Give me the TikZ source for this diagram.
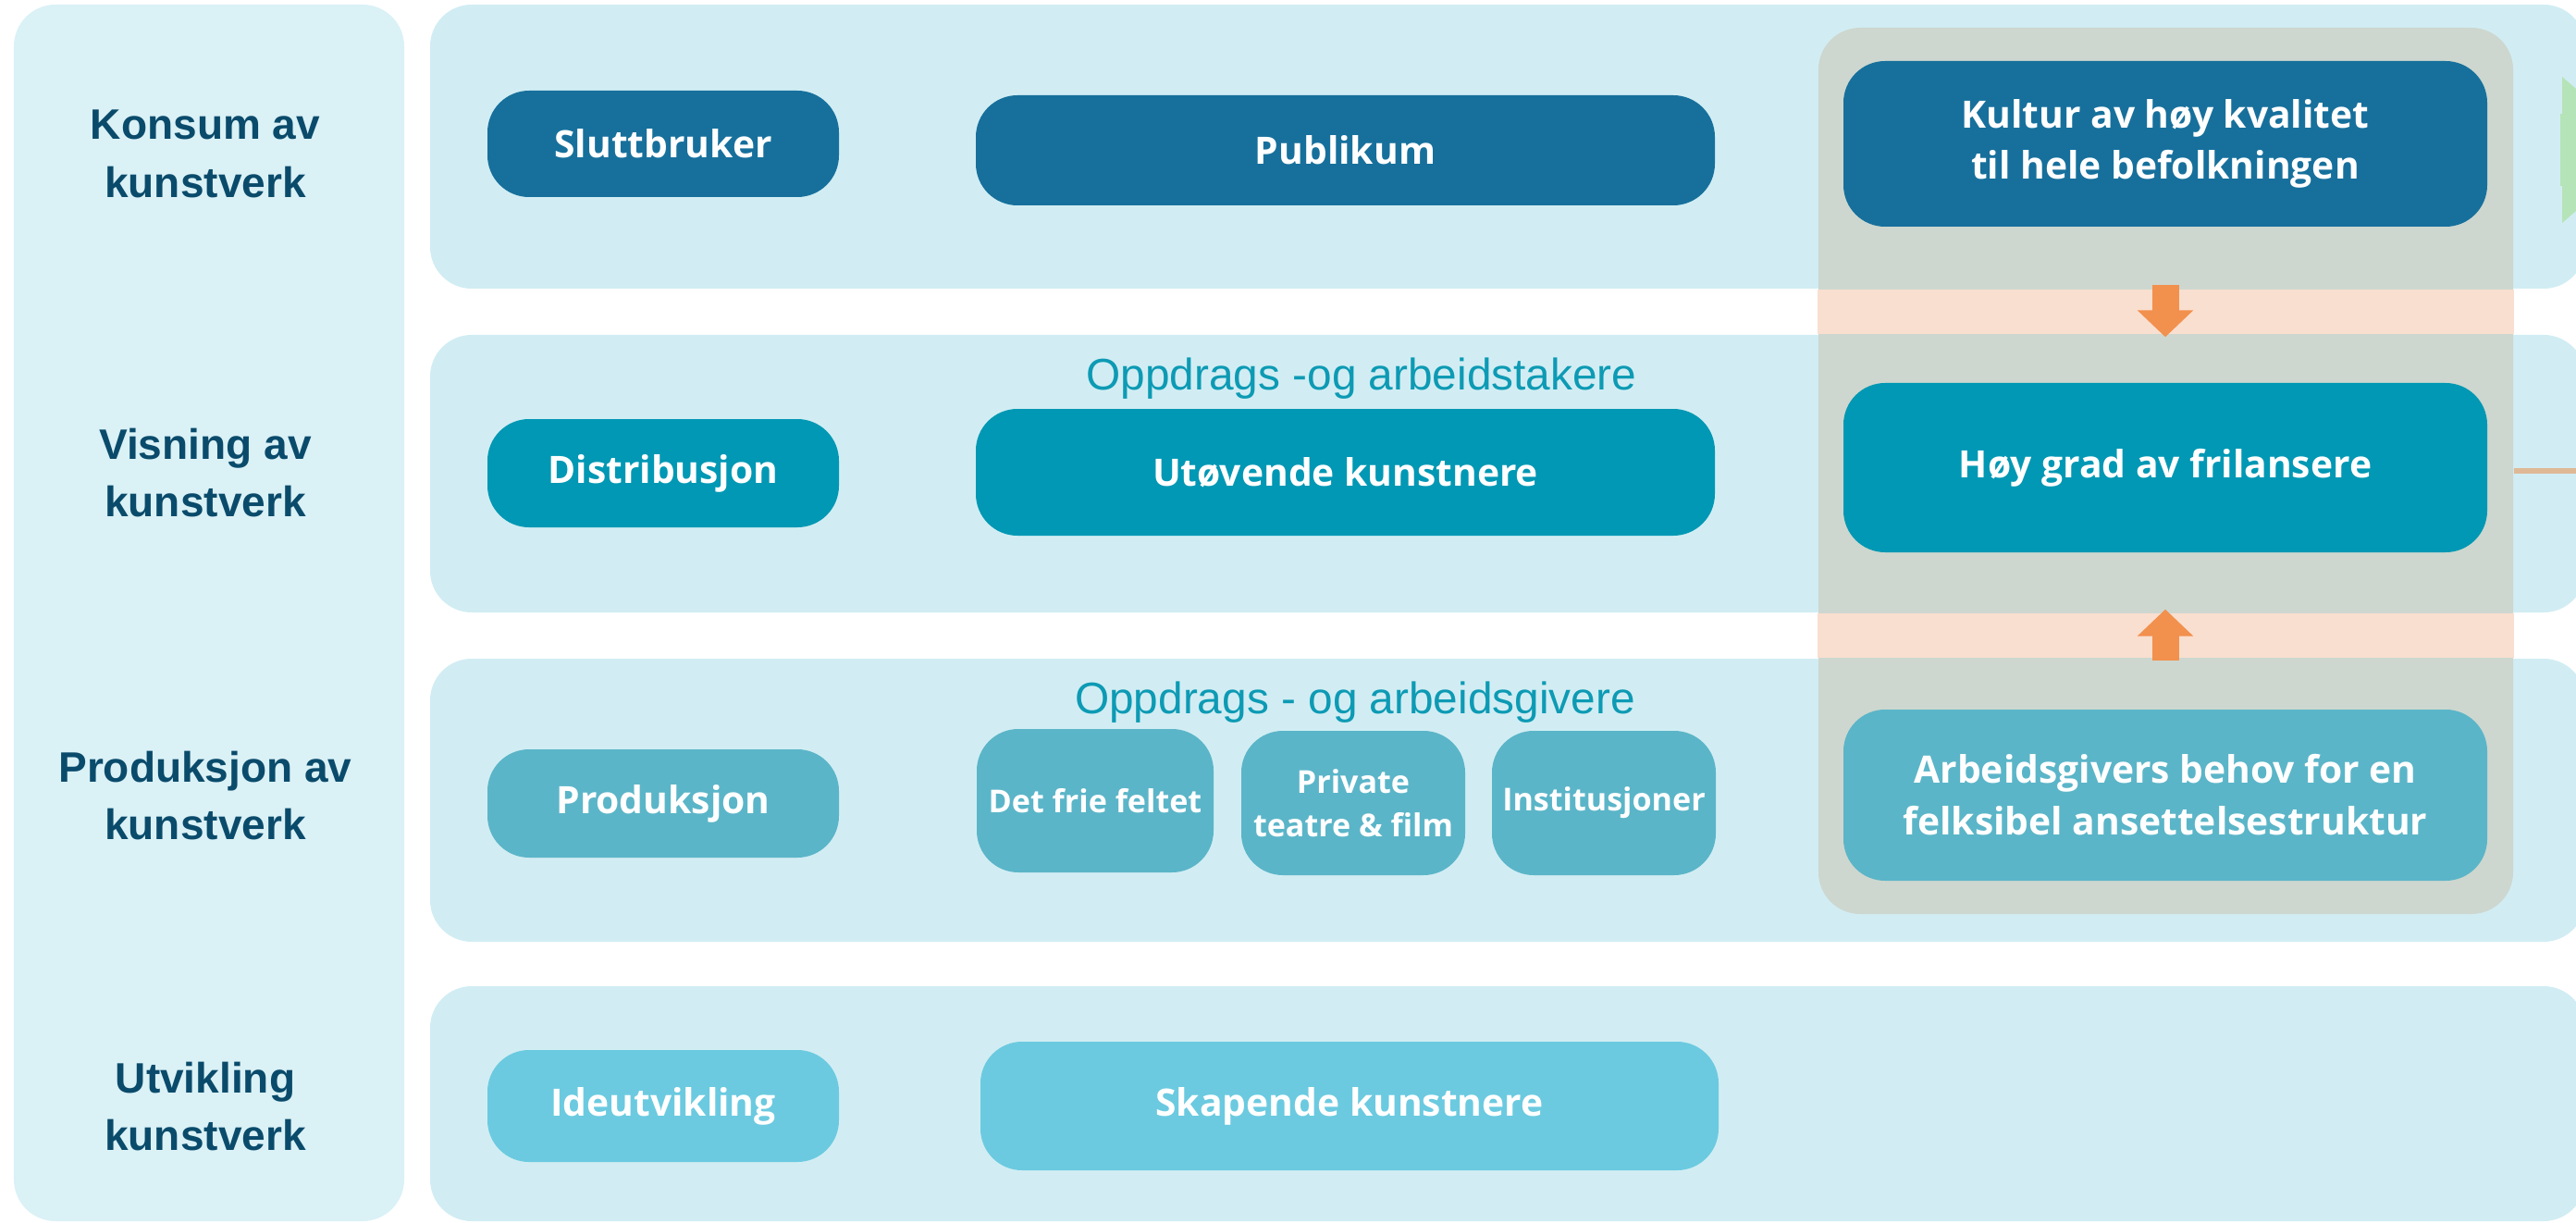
\documentclass[tikz,border=0pt]{standalone}
\usepackage{fontspec}
\setmainfont{Open Sans}
\newfontfamily\headfont{Liberation Sans}
\usetikzlibrary{arrows.meta}

\definecolor{stagebg}{HTML}{DAF1F6}
\definecolor{rowbg}{HTML}{D1EDF3}
\definecolor{focusbg}{HTML}{CDD7CF}
\definecolor{peach}{HTML}{F9DFCF}
\definecolor{darkblue}{HTML}{17709C}
\definecolor{teal}{HTML}{0098B4}
\definecolor{midblue}{HTML}{5BB5C8}
\definecolor{lightblue}{HTML}{6BCAE0}
\definecolor{headcol}{HTML}{0A4B6B}
\definecolor{subcol}{HTML}{0D9AB4}
\definecolor{arrorange}{HTML}{F2904E}
\definecolor{tanline}{HTML}{DFB896}
\definecolor{softgreen}{HTML}{B5E4B8}

\tikzset{
  panel/.style={fill=rowbg, rounded corners=0.45cm, minimum width=23.3cm},
  pill/.style={rounded corners=0.45cm, text=white, align=center,
    font=\bfseries\fontsize{11.6}{15.9}\selectfont},
  smallpill/.style={pill, minimum width=2.42cm, minimum height=1.56cm,
    font=\bfseries\fontsize{9.7}{13.4}\selectfont},
  stagelabel/.style={text=headcol, align=center,
    font=\headfont\bfseries\fontsize{13.1}{17.9}\selectfont},
  sublabel/.style={text=subcol, anchor=base,
    font=\headfont\fontsize{13.6}{16}\selectfont},
  blockarrow/.style={draw=arrorange, line width=0.29cm,
    -{Triangle[length=0.29cm, width=0.59cm]}}
}

\begin{document}
\begin{tikzpicture}[every node/.style={inner sep=0pt}]
\useasboundingbox (0,0) rectangle (27.85,13.21);

% stage column and row panels
\node[fill=stagebg, rounded corners=0.45cm, minimum width=4.22cm, minimum height=13.15cm] (stages) at (2.26,6.585) {};
\node[panel, minimum height=3.07cm] (row1) at (16.30,11.625) {};
\node[panel, minimum height=3.00cm] (row2) at (16.30,8.09) {};
\node[panel, minimum height=3.06cm] (row3) at (16.30,4.56) {};
\node[panel, minimum height=2.54cm] (row4) at (16.30,1.28) {};

\node[stagelabel] (h1) at (2.22,11.55) {Konsum av\\kunstverk};
\node[stagelabel] (h2) at (2.22,8.10) {Visning av\\kunstverk};
\node[stagelabel] (h3) at (2.22,4.61) {Produksjon av\\kunstverk};
\node[stagelabel] (h4) at (2.22,1.25) {Utvikling\\kunstverk};

% green arrow, cut by the edge
\fill[softgreen] (27.70,12.38) -- (28.00,12.12) -- (28.00,11.06) -- (27.70,10.80) -- cycle;
\fill[softgreen] (27.68,11.98) rectangle (27.71,11.20);

% focus column
\node[fill=focusbg, rounded corners=0.45cm, minimum width=7.51cm, minimum height=9.58cm] (focus) at (23.415,8.12) {};
\fill[peach] (focus.west |- row1.south) rectangle (focus.east |- row2.north);
\fill[peach] (focus.west |- row2.south) rectangle (focus.east |- row3.north);

% row 1
\node[pill, fill=darkblue, minimum width=3.80cm, minimum height=1.15cm] (slutt) at (7.17,11.655) {Sluttbruker};
\node[pill, fill=darkblue, minimum width=7.99cm, minimum height=1.19cm] (publ) at (14.545,11.585) {Publikum};
\node[pill, fill=darkblue, minimum width=6.96cm, minimum height=1.79cm, text depth=0.1cm] (kultur) at (23.41,11.655) {Kultur av høy kvalitet\\til hele befolkningen};

% row 2
\node[sublabel] (taker) at (14.72,8.99) {Oppdrags -og arbeidstakere};
\node[pill, fill=teal, minimum width=3.80cm, minimum height=1.17cm] (distr) at (7.17,8.095) {Distribusjon};
\node[pill, fill=teal, minimum width=7.99cm, minimum height=1.37cm] (utov) at (14.545,8.105) {Utøvende kunstnere};
\node[pill, fill=teal, minimum width=6.96cm, minimum height=1.83cm] (frilans) at (23.41,8.155) {Høy grad av frilansere};

% row 3
\node[sublabel] (giver) at (14.65,5.50) {Oppdrags - og arbeidsgivere};
\node[pill, fill=midblue, minimum width=3.80cm, minimum height=1.17cm] (prod) at (7.17,4.525) {Produksjon};
\node[smallpill, fill=midblue, minimum width=2.56cm, minimum height=1.55cm] (frie) at (11.84,4.555) {Det frie feltet};
\node[smallpill, fill=midblue] (priv) at (14.63,4.53) {Private\\teatre \& film};
\node[smallpill, fill=midblue] (inst) at (17.34,4.53) {Institusjoner};
\node[pill, fill=midblue, minimum width=6.96cm, minimum height=1.85cm] (arbgiv) at (23.41,4.615) {Arbeidsgivers behov for en\\felksibel ansettelsestruktur};

% row 4
\node[pill, fill=lightblue, minimum width=3.80cm, minimum height=1.21cm] (ide) at (7.17,1.255) {Ideutvikling};
\node[pill, fill=lightblue, minimum width=7.98cm, minimum height=1.39cm] (skap) at (14.59,1.255) {Skapende kunstnere};

% arrows
\draw[blockarrow, shorten <=0.62cm, shorten >=0.49cm] (kultur) -- (frilans);
\draw[blockarrow, shorten <=0.52cm, shorten >=0.61cm] (arbgiv) -- (frilans);
\coordinate (rimR) at (27.95,8.12);
\draw[tanline, line width=0.06cm] (focus.east |- rimR) -- (rimR);
\end{tikzpicture}
\end{document}
